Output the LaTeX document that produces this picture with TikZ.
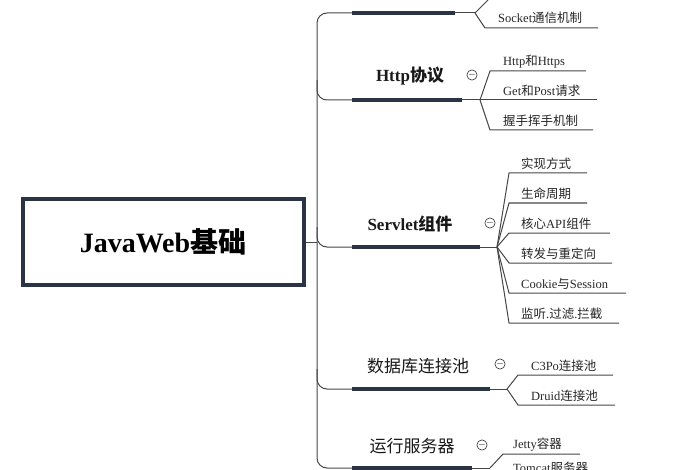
\documentclass[tikz,border=0pt]{standalone}
\usepackage{fontspec}
\setmainfont{Liberation Serif}
\newfontfamily\cjk{Noto Sans CJK SC}
\newcommand{\zh}[1]{{\cjk #1}}
\usetikzlibrary{positioning,calc}
\definecolor{mapnavy}{RGB}{43,52,69}
\definecolor{mapgray}{RGB}{70,70,70}
\tikzset{
  link/.style={draw=mapgray, line width=1pt},
  bar/.style={draw=mapnavy, line width=4.5pt},
  leaf/.style={font=\fontsize{12.5}{13}\selectfont, text=black!85, inner sep=1pt},
  branch/.style={font=\fontsize{17}{18}\selectfont, text=black!90, inner sep=1pt},
  fold/.style={draw=mapgray, circle, line width=0.7pt, minimum size=10pt, inner sep=0pt, fill=white},
}
\begin{document}
\begin{tikzpicture}[x=1pt,y=-1pt]
    \useasboundingbox (0,0) rectangle (700,470);
    \clip (0,0) rectangle (700,470);
    % Root
    \node[draw=mapnavy, line width=4pt, minimum width=281pt, minimum height=86pt,
          font=\fontsize{28}{30}\selectfont\bfseries] (root) at (163,242) {JavaWeb\zh{基础}};
    \coordinate (hub) at (317,242);
    \draw[link] (root.east) -- (hub);

    % Spine with branch stubs
    \coordinate (b1) at (352,13);
    \coordinate (b2) at (352,100);
    \coordinate (b3) at (352,247);
    \coordinate (b4) at (352,389);
    \coordinate (b5) at (352,468);
    \draw[link, rounded corners=10pt] (b1) -- (317,13) -- (317,468) -- (b5);
    \draw[link, rounded corners=10pt] (317,80) -- (317,100) -- (b2);
    \draw[link, rounded corners=10pt] (317,227) -- (317,247) -- (b3);
    \draw[link, rounded corners=10pt] (317,369) -- (317,389) -- (b4);

    % Branch 1 (cut at top)
    \coordinate (f1) at (475,13);
    \draw[bar] (b1) -- (455,13);
    \draw[link] (455,13) -- (f1);
    \node[leaf, anchor=south west] (s1) at (497,25) {Socket\zh{通信机制}};
    \coordinate (s1a) at (485,28); \coordinate (s1b) at (598,28);
    \draw[link] (f1) -- (s1a) -- (s1b);
    \draw[link] (f1) -- (488,0);

    % Branch 2: Http
    \node[branch, font=\fontsize{17}{18}\selectfont\bfseries] (http) at (410,76) {Http\zh{协议}};
    \node[fold] (c2) at (472,75) {$-$};
    \coordinate (f2) at (480,100);
    \draw[bar] (b2) -- (462,100);
    \draw[link] (462,100) -- (f2);
    \foreach \t/\ly/\xs/\xe in {Http\zh{和}Https/71/490/586, Get\zh{和}Post\zh{请求}/100/480/597, \zh{握手挥手机制}/130/490/593}{
      \node[leaf, anchor=south west] at (502,\ly-2) {\t};
      \draw[link] (f2) -- (\xs,\ly) -- (\xe,\ly);
    }

    % Branch 3: Servlet
    \node[branch, font=\fontsize{17}{18}\selectfont\bfseries] (servlet) at (410,224) {Servlet\zh{组件}};
    \node[fold] (c3) at (490,223) {$-$};
    \coordinate (f3) at (497,247);
    \draw[bar] (b3) -- (480,247);
    \draw[link] (480,247) -- (f3);
    \foreach \t/\ly/\xe in {\zh{实现方式}/173/587, \zh{生命周期}/203/587, \zh{核心}API\zh{组件}/233/610, \zh{转发与重定向}/263/612, Cookie\zh{与}Session/293/626, \zh{监听}.\zh{过滤}.\zh{拦截}/323/619}{
      \node[leaf, anchor=south west] at (520,\ly-2) {\t};
      \draw[link] (f3) -- (509,\ly) -- (\xe,\ly);
    }

    % Branch 4: pools
    \node[branch] (pool) at (418,366) {\zh{数据库连接池}};
    \node[fold] (c4) at (500,364) {$-$};
    \coordinate (f4) at (507,389);
    \draw[bar] (b4) -- (490,389);
    \draw[link] (490,389) -- (f4);
    \foreach \t/\ly/\xe in {C3Po\zh{连接池}/375/613, Druid\zh{连接池}/405/615}{
      \node[leaf, anchor=south west] at (530,\ly-2) {\t};
      \draw[link] (f4) -- (518,\ly) -- (\xe,\ly);
    }

    % Branch 5: servers (cut at bottom)
    \node[branch] (server) at (412,446) {\zh{运行服务器}};
    \node[fold] (c5) at (482,445) {$-$};
    \coordinate (f5) at (490,468);
    \draw[bar] (b5) -- (472,468);
    \draw[link] (472,468) -- (f5);
    \node[leaf, anchor=south west] (jetty) at (512,452) {Jetty\zh{容器}};
    \draw[link] (f5) -- (503,454) -- (580,454);
    \node[leaf, anchor=north west] (tomcat) at (512,461) {Tomcat\zh{服务器}};
\end{tikzpicture}
\end{document}
